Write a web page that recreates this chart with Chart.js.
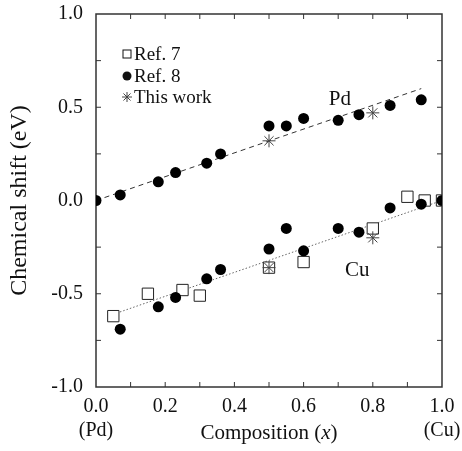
<!DOCTYPE html>
<html>
<head>
  <title>Chemical shift vs composition</title>
  <script src="https://cdn.jsdelivr.net/npm/chart.js@4.4.0/dist/chart.umd.min.js"></script>
  <style>
    body { margin: 0; background: #fff; }
  </style>
</head>
<body>
  <canvas id="myChart" width="462" height="451"></canvas>
  <script>
    // Ref. 8 (filled circles), Pd and Cu branches
    var ref8PdX = [0, 0.07, 0.18, 0.23, 0.32, 0.36, 0.50, 0.55, 0.60, 0.70, 0.76, 0.85, 0.94];
    var ref8PdY = [0, 0.03, 0.10, 0.15, 0.20, 0.25, 0.40, 0.40, 0.44, 0.43, 0.46, 0.51, 0.54];
    var ref8CuX = [0.07, 0.18, 0.23, 0.32, 0.36, 0.50, 0.55, 0.60, 0.70, 0.76, 0.85, 0.94, 1.0];
    var ref8CuY = [-0.69, -0.57, -0.52, -0.42, -0.37, -0.26, -0.15, -0.27, -0.15, -0.17, -0.04, -0.02, 0.0];

    // Ref. 7 (open squares), Cu only
    var ref7CuX = [0.05, 0.15, 0.25, 0.30, 0.50, 0.60, 0.80, 0.90, 0.95, 1.0];
    var ref7CuY = [-0.62, -0.50, -0.48, -0.51, -0.36, -0.33, -0.15, 0.02, 0.00, 0.0];

    // This work (asterisks)
    var thisPdX = [0.5, 0.8];
    var thisPdY = [0.32, 0.47];
    var thisCuX = [0.5, 0.8];
    var thisCuY = [-0.36, -0.20];

    // guide lines
    var pdLineX = [0, 0.94];
    var pdLineY = [0, 0.60];
    var cuLineX = [0.05, 1.0];
    var cuLineY = [-0.61, 0.0];

    // ticks
    var xTickValues = [0, 0.2, 0.4, 0.6, 0.8, 1.0];
    var xTickText = [['0.0', '(Pd)'], '0.2', '0.4', '0.6', '0.8', ['1.0', '(Cu)']];
    var yTickValues = [-1.0, -0.5, 0.0, 0.5, 1.0];
    var yTickText = ['-1.0', '-0.5', '0.0', '0.5', '1.0'];

    var legendLabels = ['Ref. 7', 'Ref. 8', 'This work'];

    function pts(xs, ys) {
      return xs.map(function(x, i) { return {x: x, y: ys[i]}; });
    }

    var serif = "'Liberation Serif', 'Times New Roman', serif";

    // frame, inward ticks, legend and labels
    var decorPlugin = {
      id: 'decor',
      beforeDatasetsDraw: function(chart) {
        var ctx = chart.ctx, a = chart.chartArea;
        var xs = chart.scales.x, ys = chart.scales.y;
        ctx.save();
        ctx.strokeStyle = '#333';
        ctx.lineWidth = 1.5;
        ctx.strokeRect(a.left, a.top, a.right - a.left, a.bottom - a.top);
        ctx.lineWidth = 1;
        var tl = 5;
        for (var i = 1; i < 10; i++) {
          var px = xs.getPixelForValue(i / 10);
          ctx.beginPath();
          ctx.moveTo(px, a.bottom); ctx.lineTo(px, a.bottom - tl);
          ctx.moveTo(px, a.top); ctx.lineTo(px, a.top + tl);
          ctx.stroke();
        }
        for (var j = 1; j < 8; j++) {
          var py = ys.getPixelForValue(-1 + j * 0.25);
          ctx.beginPath();
          ctx.moveTo(a.left, py); ctx.lineTo(a.left + tl, py);
          ctx.moveTo(a.right, py); ctx.lineTo(a.right - tl, py);
          ctx.stroke();
        }
        ctx.restore();
      },
      afterDraw: function(chart) {
        var ctx = chart.ctx, xs = chart.scales.x, ys = chart.scales.y;
        ctx.save();
        ctx.fillStyle = '#111';
        ctx.textBaseline = 'middle';

        // x axis title with italic x
        var cx = (xs.left + xs.right) / 2, ty = 433;
        var t1 = 'Composition (', t3 = ')';
        ctx.font = 'italic 21px ' + serif;
        var w2 = ctx.measureText('x').width;
        ctx.font = '21px ' + serif;
        var w1 = ctx.measureText(t1).width, w3 = ctx.measureText(t3).width;
        var sx = cx - (w1 + w2 + w3) / 2;
        ctx.textAlign = 'left';
        ctx.fillText(t1, sx, ty);
        ctx.font = 'italic 21px ' + serif;
        ctx.fillText('x', sx + w1, ty);
        ctx.font = '21px ' + serif;
        ctx.fillText(t3, sx + w1 + w2, ty);

        // curve labels
        ctx.font = '21px ' + serif;
        ctx.textAlign = 'center';
        ctx.fillText('Pd', xs.getPixelForValue(0.705), ys.getPixelForValue(0.54));
        ctx.fillText('Cu', xs.getPixelForValue(0.755), ys.getPixelForValue(-0.375));

        // legend
        var lx = 127, rows = [54, 76, 97];
        ctx.font = '19px ' + serif;
        ctx.textAlign = 'left';
        ctx.strokeStyle = '#111';
        ctx.lineWidth = 1;
        ctx.fillStyle = '#fff';
        ctx.fillRect(lx - 4, rows[0] - 4, 8, 8);
        ctx.strokeRect(lx - 4, rows[0] - 4, 8, 8);
        ctx.fillStyle = '#111';
        ctx.beginPath();
        ctx.arc(lx, rows[1], 4.5, 0, Math.PI * 2);
        ctx.fill();
        ctx.strokeStyle = '#444';
        ctx.beginPath();
        for (var k = 0; k < 4; k++) {
          var ang = k * Math.PI / 4;
          ctx.moveTo(lx - 5 * Math.cos(ang), rows[2] - 5 * Math.sin(ang));
          ctx.lineTo(lx + 5 * Math.cos(ang), rows[2] + 5 * Math.sin(ang));
        }
        ctx.stroke();
        ctx.fillStyle = '#111';
        for (var r = 0; r < 3; r++) {
          ctx.fillText(legendLabels[r], lx + 7, rows[r] + 1);
        }
        ctx.restore();
      }
    };

    var ctx = document.getElementById('myChart').getContext('2d');
    var chart = new Chart(ctx, {
      type: 'scatter',
      data: {
        datasets: [
          {
            label: 'This work (Pd)', data: pts(thisPdX, thisPdY), order: 1,
            pointStyle: 'star', pointRadius: 6.5, borderColor: '#444', backgroundColor: '#444', borderWidth: 1
          },
          {
            label: 'This work (Cu)', data: pts(thisCuX, thisCuY), order: 1,
            pointStyle: 'star', pointRadius: 6.5, borderColor: '#444', backgroundColor: '#444', borderWidth: 1
          },
          {
            label: 'Ref. 8 (Pd)', data: pts(ref8PdX, ref8PdY), order: 2,
            pointStyle: 'circle', pointRadius: 5.5, borderColor: '#000', backgroundColor: '#000', borderWidth: 0
          },
          {
            label: 'Ref. 8 (Cu)', data: pts(ref8CuX, ref8CuY), order: 2,
            pointStyle: 'circle', pointRadius: 5.5, borderColor: '#000', backgroundColor: '#000', borderWidth: 0
          },
          {
            label: 'Ref. 7 (Cu)', data: pts(ref7CuX, ref7CuY), order: 3,
            pointStyle: 'rect', pointRadius: 8, borderColor: '#222', backgroundColor: '#fff', borderWidth: 1
          },
          {
            type: 'line', label: 'Pd fit', data: pts(pdLineX, pdLineY), order: 4,
            showLine: true, pointRadius: 0, borderColor: '#333', borderWidth: 1, borderDash: [5, 4], fill: false
          },
          {
            type: 'line', label: 'Cu fit', data: pts(cuLineX, cuLineY), order: 4,
            showLine: true, pointRadius: 0, borderColor: '#666', borderWidth: 1, borderDash: [1.5, 2], fill: false
          }
        ]
      },
      options: {
        responsive: false,
        animation: false,
        devicePixelRatio: 1,
        layout: { padding: { left: 0, right: 20, top: 14, bottom: 0 } },
        plugins: {
          legend: { display: false },
          tooltip: { enabled: false }
        },
        scales: {
          x: {
            type: 'linear', min: 0, max: 1,
            afterFit: function(s) { s.height = 64; s.paddingLeft = 0; s.paddingRight = 0; },
            afterBuildTicks: function(s) { s.ticks = xTickValues.map(function(v) { return {value: v}; }); },
            grid: { display: false, drawTicks: false },
            border: { display: false },
            ticks: {
              padding: 8, color: '#111',
              font: { family: serif, size: 20, lineHeight: 1.2 },
              maxRotation: 0, autoSkip: false,
              callback: function(v, i) { return xTickText[i]; }
            }
          },
          y: {
            type: 'linear', min: -1, max: 1,
            afterFit: function(s) { s.width = 96; s.paddingTop = 0; s.paddingBottom = 0; },
            afterBuildTicks: function(s) { s.ticks = yTickValues.map(function(v) { return {value: v}; }); },
            grid: { display: false, drawTicks: false },
            border: { display: false },
            ticks: {
              padding: 13, color: '#111',
              font: { family: serif, size: 20 },
              callback: function(v, i) { return yTickText[i]; }
            },
            title: {
              display: true, text: 'Chemical shift (eV)', color: '#111',
              font: { family: serif, size: 24 }, padding: { top: 5, bottom: 0 }
            }
          }
        }
      },
      plugins: [decorPlugin]
    });
  </script>
</body>
</html>
